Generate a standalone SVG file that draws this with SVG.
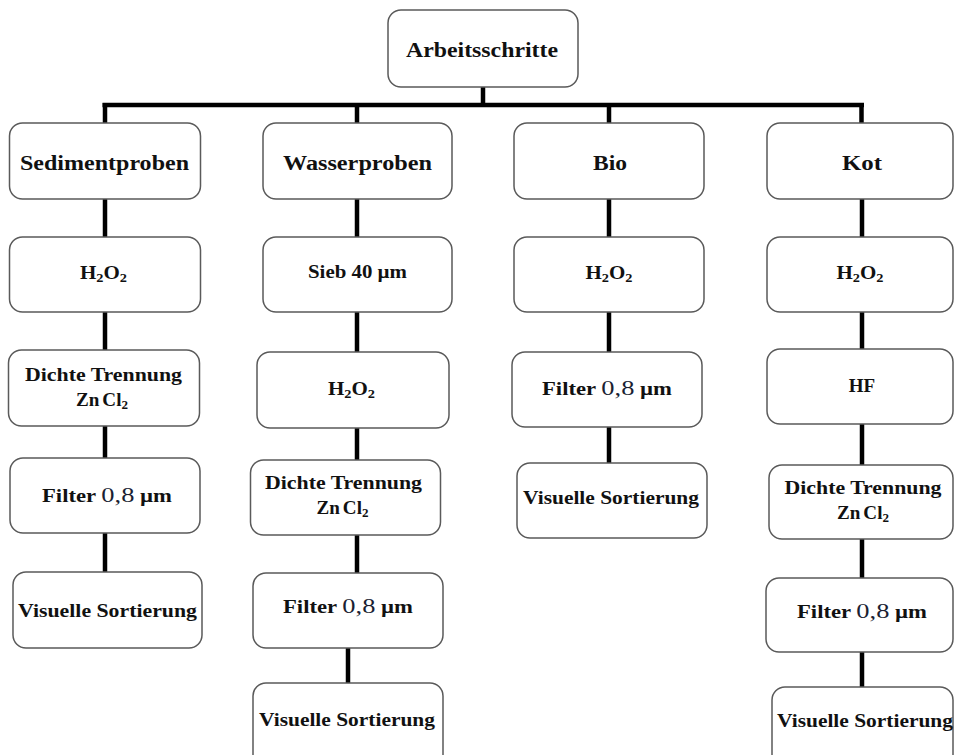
<svg xmlns="http://www.w3.org/2000/svg" width="955" height="755" viewBox="0 0 955 755">
<style>
.box{fill:#fff;stroke:#5a5a5a;stroke-width:1.5}
.t{font-family:"Liberation Serif","Times New Roman",serif;font-weight:bold;fill:#111;text-anchor:middle}
.h{font-size:20px}
.s{font-size:18px}
.f{font-size:19px}
.n{font-weight:normal;font-size:21px;fill:#1b1f33}
.sub{font-size:13px}
.c line{stroke:#000;stroke-width:4.5;stroke-linecap:butt}
</style>
<rect width="955" height="755" fill="#fff"/>
<g class="c" id="connectors">
<line x1="483" y1="87" x2="483" y2="107"/>
<line x1="102.5" y1="105" x2="864" y2="105"/>
<line x1="105" y1="103" x2="105" y2="123"/>
<line x1="357" y1="103" x2="357" y2="123"/>
<line x1="609" y1="103" x2="609" y2="123"/>
<line x1="861.5" y1="103" x2="861.5" y2="123"/>
<line x1="105" y1="199" x2="105" y2="237"/>
<line x1="105" y1="312" x2="105" y2="350"/>
<line x1="105" y1="426" x2="105" y2="458"/>
<line x1="105" y1="533" x2="105" y2="572"/>
<line x1="357" y1="199" x2="357" y2="237"/>
<line x1="357" y1="312" x2="357" y2="352"/>
<line x1="357" y1="428" x2="357" y2="460"/>
<line x1="357" y1="535" x2="357" y2="573"/>
<line x1="348" y1="648" x2="348" y2="683"/>
<line x1="609" y1="199" x2="609" y2="237"/>
<line x1="609" y1="312" x2="609" y2="352"/>
<line x1="609" y1="427" x2="609" y2="463"/>
<line x1="862" y1="199" x2="862" y2="237"/>
<line x1="862" y1="312" x2="862" y2="349"/>
<line x1="862" y1="424" x2="862" y2="465"/>
<line x1="862" y1="539" x2="862" y2="578"/>
<line x1="862" y1="652" x2="862" y2="687"/>
</g>
<g id="n-arbeitsschritte"><rect class="box" x="388" y="10" width="190" height="77" rx="13"/><text class="t h" x="482" y="57" textLength="152" lengthAdjust="spacingAndGlyphs">Arbeitsschritte</text></g>

<g id="n-sediment"><rect class="box" x="9.5" y="123" width="191" height="76" rx="13"/><text class="t h" x="104.5" y="170" textLength="169" lengthAdjust="spacingAndGlyphs">Sedimentproben</text></g>
<g id="n-sed-h2o2"><rect class="box" x="9.5" y="237" width="191" height="75" rx="13"/><text class="t f" x="103.5" y="279" textLength="47" lengthAdjust="spacingAndGlyphs">H<tspan class="sub" dy="3">2</tspan><tspan dy="-3">O</tspan><tspan class="sub" dy="3">2</tspan></text></g>
<g id="n-sed-dichte"><rect class="box" x="8.5" y="350" width="191" height="76" rx="13"/><text class="t s" x="103.5" y="381" textLength="157" lengthAdjust="spacingAndGlyphs">Dichte Trennung</text><text class="t f" x="102" y="406" textLength="52" lengthAdjust="spacingAndGlyphs">Zn<tspan dx="3">Cl</tspan><tspan class="sub" dy="3">2</tspan></text></g>
<g id="n-sed-filter"><rect class="box" x="10" y="458" width="190" height="75" rx="13"/><text class="t s" x="107" y="502" textLength="130" lengthAdjust="spacingAndGlyphs">Filter <tspan class="n">0,8</tspan>  µm</text></g>
<g id="n-sed-vis"><rect class="box" x="13" y="572" width="189" height="76" rx="13"/><text class="t s" x="107.5" y="617" textLength="179" lengthAdjust="spacingAndGlyphs">Visuelle Sortierung</text></g>

<g id="n-wasser"><rect class="box" x="263" y="123" width="189" height="76" rx="13"/><text class="t h" x="357.5" y="170" textLength="149" lengthAdjust="spacingAndGlyphs">Wasserproben</text></g>
<g id="n-w-sieb"><rect class="box" x="263" y="237" width="189" height="75" rx="13"/><text class="t s" x="357.5" y="278" textLength="99" lengthAdjust="spacingAndGlyphs">Sieb 40 µm</text></g>
<g id="n-w-h2o2"><rect class="box" x="257" y="352" width="192" height="76" rx="13"/><text class="t f" x="351.5" y="395" textLength="47" lengthAdjust="spacingAndGlyphs">H<tspan class="sub" dy="3">2</tspan><tspan dy="-3">O</tspan><tspan class="sub" dy="3">2</tspan></text></g>
<g id="n-w-dichte"><rect class="box" x="250.5" y="460" width="190" height="75" rx="13"/><text class="t s" x="343.5" y="489" textLength="157" lengthAdjust="spacingAndGlyphs">Dichte Trennung</text><text class="t f" x="342.5" y="514" textLength="52" lengthAdjust="spacingAndGlyphs">Zn<tspan dx="3">Cl</tspan><tspan class="sub" dy="3">2</tspan></text></g>
<g id="n-w-filter"><rect class="box" x="253" y="573" width="190" height="75" rx="13"/><text class="t s" x="348" y="613" textLength="130" lengthAdjust="spacingAndGlyphs">Filter <tspan class="n">0,8</tspan>  µm</text></g>
<g id="n-w-vis"><rect class="box" x="253" y="683" width="190" height="85" rx="13"/><text class="t s" x="347" y="726" textLength="176" lengthAdjust="spacingAndGlyphs">Visuelle Sortierung</text></g>

<g id="n-bio"><rect class="box" x="514" y="123" width="190" height="76" rx="13"/><text class="t h" x="610" y="170" textLength="34" lengthAdjust="spacingAndGlyphs">Bio</text></g>
<g id="n-b-h2o2"><rect class="box" x="514" y="237" width="190" height="75" rx="13"/><text class="t f" x="609" y="279" textLength="47" lengthAdjust="spacingAndGlyphs">H<tspan class="sub" dy="3">2</tspan><tspan dy="-3">O</tspan><tspan class="sub" dy="3">2</tspan></text></g>
<g id="n-b-filter"><rect class="box" x="512" y="352" width="190" height="75" rx="13"/><text class="t s" x="607" y="395" textLength="130" lengthAdjust="spacingAndGlyphs">Filter <tspan class="n">0,8</tspan>  µm</text></g>
<g id="n-b-vis"><rect class="box" x="517" y="463" width="190" height="75" rx="13"/><text class="t s" x="611" y="504" textLength="176" lengthAdjust="spacingAndGlyphs">Visuelle Sortierung</text></g>

<g id="n-kot"><rect class="box" x="767" y="123" width="186" height="76" rx="13"/><text class="t h" x="862" y="170" textLength="40" lengthAdjust="spacingAndGlyphs">Kot</text></g>
<g id="n-k-h2o2"><rect class="box" x="767" y="237" width="186" height="75" rx="13"/><text class="t f" x="860" y="279" textLength="47" lengthAdjust="spacingAndGlyphs">H<tspan class="sub" dy="3">2</tspan><tspan dy="-3">O</tspan><tspan class="sub" dy="3">2</tspan></text></g>
<g id="n-k-hf"><rect class="box" x="767" y="349" width="186" height="75" rx="13"/><text class="t f" x="862" y="392">HF</text></g>
<g id="n-k-dichte"><rect class="box" x="769" y="465" width="184" height="74" rx="13"/><text class="t s" x="863" y="494" textLength="157" lengthAdjust="spacingAndGlyphs">Dichte Trennung</text><text class="t f" x="863" y="519" textLength="52" lengthAdjust="spacingAndGlyphs">Zn<tspan dx="3">Cl</tspan><tspan class="sub" dy="3">2</tspan></text></g>
<g id="n-k-filter"><rect class="box" x="766" y="578" width="187" height="74" rx="13"/><text class="t s" x="862" y="618" textLength="130" lengthAdjust="spacingAndGlyphs">Filter <tspan class="n">0,8</tspan>  µm</text></g>
<g id="n-k-vis"><rect class="box" x="772" y="687" width="181" height="85" rx="13"/><text class="t s" x="865" y="727" textLength="176" lengthAdjust="spacingAndGlyphs">Visuelle Sortierung</text></g>
</svg>
